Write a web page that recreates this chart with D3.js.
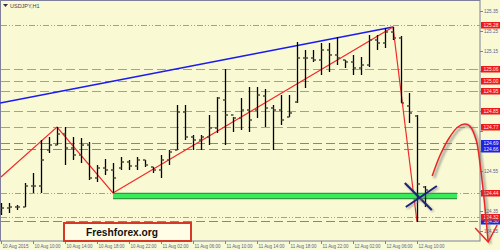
<!DOCTYPE html>
<html>
<head>
<meta charset="utf-8">
<script src="https://cdn.jsdelivr.net/npm/d3@7"></script>
<style>
  body { margin: 0; background: #fff; }
  .canvas svg { display: block; }
</style>
</head>
<body>
<div class="canvas"></div>
<script>
// hourly bars from 10 Aug 2015 06:00
const startTime = Date.UTC(2015, 7, 10, 6);
const opens = [124.345,124.365,124.370,124.370,124.475,124.475,124.655,124.680,124.735,124.665,
  124.630,124.680,124.515,124.565,124.555,124.565,124.595,124.575,124.605,124.570,
  124.555,124.605,124.655,124.845,124.720,124.705,124.720,124.765,124.905,124.830,
  124.815,124.855,124.855,124.925,124.865,124.855,124.820,124.895,125.115,125.115,
  125.105,125.155,125.130,125.105,125.095,125.065,125.080,125.205,125.190,125.245,
  125.215,124.875,124.825,124.470];
const highs = [124.390,124.390,124.380,124.490,124.540,124.705,124.720,124.770,124.770,124.720,
  124.715,124.695,124.580,124.610,124.590,124.620,124.605,124.620,124.605,124.570,
  124.630,124.655,124.880,124.880,124.730,124.730,124.830,124.920,125.060,124.820,
  124.915,124.970,124.970,124.960,124.880,124.930,124.930,125.195,125.155,125.155,
  125.190,125.190,125.220,125.105,125.130,125.120,125.230,125.230,125.265,125.270,
  125.225,124.940,124.830,124.475];
const lows = [124.330,124.340,124.355,124.370,124.440,124.440,124.640,124.680,124.580,124.605,
  124.590,124.505,124.495,124.530,124.440,124.555,124.555,124.555,124.570,124.540,
  124.515,124.580,124.655,124.705,124.655,124.655,124.680,124.740,124.680,124.745,
  124.755,124.745,124.815,124.770,124.655,124.780,124.820,124.890,124.965,125.095,
  125.030,125.045,125.080,125.065,125.030,125.030,125.070,125.155,125.165,125.205,
  124.890,124.790,124.295,124.370];
const closes = [124.365,124.370,124.370,124.475,124.475,124.605,124.680,124.735,124.665,124.630,
  124.680,124.515,124.565,124.555,124.515,124.595,124.575,124.605,124.580,124.555,
  124.605,124.645,124.845,124.720,124.705,124.720,124.765,124.915,124.830,124.815,
  124.855,124.805,124.930,124.865,124.855,124.805,124.840,125.115,125.115,125.105,
  125.155,125.130,125.115,125.095,125.065,125.080,125.205,125.190,125.245,125.215,
  124.890,124.840,124.485,124.455];

// axis ticks
const priceTicks = [125.35,125.25,125.15,125.05,124.95,124.85,124.75,124.65,124.55,124.45,124.35,124.25];
const timeTickBars = [0,4,8,12,16,20,24,28,32,36,40,44,48,52];

// horizontal levels
const redLevels = [125.06, 125.00, 124.95, 124.85, 124.77];
const redDotLevels = [125.28, 124.44, 124.32];
const blueLevels = [124.69, 124.66, 124.30];

// drawn objects (bar index, price)
const zigzag = [[0, 124.52], [7, 124.77], [14, 124.44], [49, 125.27], [52, 124.295]];
const blueTrend = [[-0.1, 124.89], [49, 125.27]];
const greenZone = [[14, 124.425], [57, 124.425]];
const crossCenter = [52.1, 124.425];
const forecast = [[53.9, 124.525], [54.9, 124.63], [56.1, 124.72], [57.1, 124.77], [58, 124.785],
  [58.6, 124.775], [59.4, 124.705], [59.9, 124.58], [60.4, 124.405], [60.9, 124.195]];

const hour = 3600 * 1000;
const toDate = i => new Date(startTime + i * hour);
const bars = opens.map((o, i) => ({t: toDate(i), o, h: highs[i], l: lows[i], c: closes[i]}));

const width = 500, height = 250;
const plotLeft = 1, plotTop = 1, plotRight = 480, plotBottom = 241;

const svg = d3.select('.canvas')
  .append('svg')
  .attr('width', width)
  .attr('height', height)
  .style('font-family', '"Liberation Sans", Arial, sans-serif');

svg.append('rect').attr('width', width).attr('height', height).attr('fill', '#f9f9d3');

const x = d3.scaleUtc()
  .domain([toDate(0), toDate(59.875)])
  .range([plotLeft, plotRight]);
const y = d3.scaleLinear()
  .domain([124.20, 125.40])
  .range([plotBottom, plotTop]);

const defs = svg.append('defs');
defs.append('filter').attr('id', 'blur').append('feGaussianBlur').attr('stdDeviation', 1.2);

// frame
svg.append('rect')
  .attr('x', plotLeft - 0.5).attr('y', plotTop - 0.5)
  .attr('width', plotRight - plotLeft + 0.5).attr('height', plotBottom - plotTop + 0.5)
  .attr('fill', 'none').attr('stroke', '#80809c');

// level lines
const levelLine = (vals, color, dash) => {
  svg.append('g').selectAll('line')
    .data(vals).enter().append('line')
    .attr('x1', plotLeft).attr('x2', plotRight)
    .attr('y1', d => Math.round(y(d)) + 0.5).attr('y2', d => Math.round(y(d)) + 0.5)
    .attr('stroke', color).attr('stroke-dasharray', dash);
};
levelLine(redLevels, '#f3806e', '9,4');
levelLine(redDotLevels, '#f3806e', '6,2,1,2,1,2');
levelLine(blueLevels, '#7d7cdc', '9,4');

// trend lines
const line = d3.line().x(d => x(toDate(d[0]))).y(d => y(d[1]));
svg.append('path').attr('d', line(blueTrend))
  .attr('fill', 'none').attr('stroke', '#1c1cf0').attr('stroke-width', 1.4);
svg.append('path').attr('d', line(zigzag))
  .attr('fill', 'none').attr('stroke', '#f42a2a').attr('stroke-width', 1.2);

// green zone
svg.append('path').attr('d', line(greenZone))
  .attr('stroke', '#2e9c3e').attr('stroke-width', 6.5);
svg.append('path').attr('d', line(greenZone))
  .attr('stroke', '#36ec58').attr('stroke-width', 4);

// bars
const barG = svg.append('g');
barG.selectAll('line.hl')
  .data(bars).enter().append('line')
  .attr('class', 'hl')
  .attr('x1', d => Math.round(x(d.t)) + 0.5).attr('x2', d => Math.round(x(d.t)) + 0.5)
  .attr('y1', d => y(d.h)).attr('y2', d => y(d.l))
  .attr('stroke', '#000').attr('stroke-width', 1.3);
barG.selectAll('rect.o')
  .data(bars).enter().append('rect')
  .attr('class', 'o')
  .attr('x', d => Math.round(x(d.t)) - 2).attr('y', d => y(d.o) - 0.8)
  .attr('width', 2.5).attr('height', 1.6).attr('fill', '#555');
barG.selectAll('rect.c')
  .data(bars).enter().append('rect')
  .attr('class', 'c')
  .attr('x', d => Math.round(x(d.t)) + 0.5).attr('y', d => y(d.c) - 0.8)
  .attr('width', 2.5).attr('height', 1.6).attr('fill', '#555');

// cross
const cx = x(toDate(crossCenter[0])), cy = y(crossCenter[1]);
const cross = [[[-13, -13], [14, 14]], [[-12, 11], [19, -10]]];
cross.forEach(seg => {
  svg.append('line')
    .attr('x1', cx + seg[0][0] + 1.5).attr('y1', cy + seg[0][1] + 1.5)
    .attr('x2', cx + seg[1][0] + 1.5).attr('y2', cy + seg[1][1] + 1.5)
    .attr('stroke', '#888').attr('stroke-width', 2).attr('filter', 'url(#blur)').attr('opacity', 0.7);
  svg.append('line')
    .attr('x1', cx + seg[0][0]).attr('y1', cy + seg[0][1])
    .attr('x2', cx + seg[1][0]).attr('y2', cy + seg[1][1])
    .attr('stroke', '#1c237c').attr('stroke-width', 2);
});

// right price axis; labels hidden under a level label are dropped, like the terminal does
const allLevels = redLevels.concat(redDotLevels, blueLevels);
const yAxis = d3.axisRight(y)
  .tickValues(priceTicks)
  .tickFormat(d3.format('.2f'))
  .tickSize(3)
  .tickSizeOuter(0);
const yAxisGroup = svg.append('g')
  .attr('transform', `translate(${plotRight},0)`)
  .call(yAxis);
yAxisGroup.select('.domain').remove();
yAxisGroup.selectAll('line').attr('stroke', '#80809c');
yAxisGroup.selectAll('text')
  .attr('x', 4).attr('fill', '#5d5d90').attr('font-size', 5.5)
  .attr('textLength', 14).attr('lengthAdjust', 'spacingAndGlyphs')
  .style('display', d => allLevels.some(l => Math.abs(y(l) - y(d)) < 4) ? 'none' : null);

// level labels
const levelLabel = (vals, color) => {
  const g = svg.append('g').selectAll('g')
    .data(vals).enter().append('g')
    .attr('transform', d => `translate(${plotRight + 1},${Math.round(y(d))})`);
  g.append('rect').attr('x', 0).attr('y', -3).attr('width', 20).attr('height', 6.5).attr('fill', color);
  g.append('text').attr('x', 2.5).attr('y', 2)
    .attr('font-size', 5.5).attr('fill', '#ffe8e8')
    .attr('textLength', 15).attr('lengthAdjust', 'spacingAndGlyphs')
    .text(d => d.toFixed(2));
};
levelLabel(blueLevels, '#1f22e6');
levelLabel(redLevels.concat(redDotLevels), '#f01818');

// bottom time axis
const fmt = d3.utcFormat('%d %b %H:%M');
const xAxis = d3.axisBottom(x)
  .tickValues(timeTickBars.map(toDate))
  .tickFormat((d, i) => i === 0 ? d3.utcFormat('%d %b %Y')(d) : fmt(d))
  .tickSize(3)
  .tickSizeOuter(0);
const xAxisGroup = svg.append('g')
  .attr('transform', `translate(0,${plotBottom})`)
  .call(xAxis);
xAxisGroup.select('.domain').remove();
xAxisGroup.selectAll('line').attr('stroke', '#80809c');
xAxisGroup.selectAll('text')
  .attr('text-anchor', 'start')
  .attr('x', 1).attr('y', 3).attr('dy', '0.71em')
  .attr('fill', '#5d5d90').attr('font-size', 5.5)
  .attr('textLength', 26).attr('lengthAdjust', 'spacingAndGlyphs');

// forecast curve
const curve = d3.line().curve(d3.curveCatmullRom).x(d => x(toDate(d[0]))).y(d => y(d[1]));
svg.append('path').attr('d', curve(forecast))
  .attr('transform', 'translate(2,2)')
  .attr('fill', 'none').attr('stroke', '#777').attr('stroke-width', 2.5)
  .attr('filter', 'url(#blur)').attr('opacity', 0.6);
svg.append('path').attr('d', curve(forecast))
  .attr('fill', 'none').attr('stroke', '#e82626').attr('stroke-width', 1.5);
const tip = forecast[forecast.length - 1];
const tx = x(toDate(tip[0])), ty = y(tip[1]);
svg.append('path')
  .attr('d', `M${tx - 13},${ty - 14}L${tx},${ty}L${tx + 9},${ty - 17}`)
  .attr('fill', 'none').attr('stroke', '#e82626').attr('stroke-width', 1.5);

// title
svg.append('path').attr('d', 'M3,4L8,4L5.5,7Z').attr('fill', '#303050');
svg.append('text').attr('x', 10).attr('y', 7.5)
  .attr('font-size', 5.5).attr('fill', '#404060')
  .text('USDJPY,H1');

// watermark box
svg.append('rect')
  .attr('x', 64).attr('y', 223).attr('width', 127).attr('height', 18)
  .attr('fill', '#fffde6').attr('stroke', '#d8382a').attr('stroke-width', 2);
svg.append('text')
  .attr('x', 122).attr('y', 236)
  .attr('text-anchor', 'middle')
  .attr('font-size', 11.5).attr('font-weight', 'bold').attr('fill', '#111')
  .attr('textLength', 72).attr('lengthAdjust', 'spacingAndGlyphs')
  .text('Freshforex.org');
</script>
</body>
</html>
